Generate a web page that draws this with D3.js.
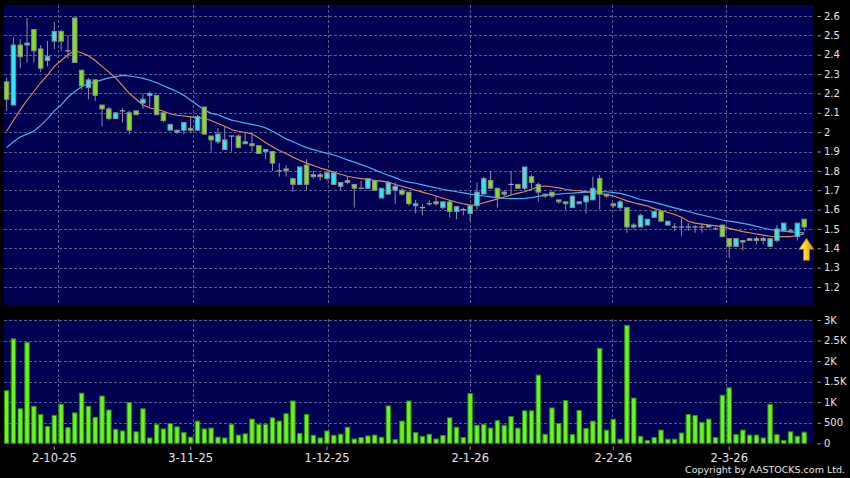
<!DOCTYPE html>
<html>
<head>
<meta charset="utf-8">
<script src="https://cdn.jsdelivr.net/npm/d3@7"></script>
<style>
  html, body { margin: 0; padding: 0; background: #000; }
  svg { display: block; }
</style>
</head>
<body>
<svg id="chart" width="850" height="478"></svg>
<script>
// trading days, 22 Sep 2025 .. 17 Mar 2026
const dates = [
  '2025-09-22','2025-09-23','2025-09-24','2025-09-25','2025-09-26','2025-09-29','2025-09-30',
  '2025-10-02','2025-10-03','2025-10-06','2025-10-08','2025-10-09','2025-10-10','2025-10-13','2025-10-14','2025-10-15','2025-10-16',
  '2025-10-17','2025-10-20','2025-10-21','2025-10-22','2025-10-23','2025-10-24','2025-10-27','2025-10-28','2025-10-30','2025-10-31',
  '2025-11-03','2025-11-04','2025-11-05','2025-11-06','2025-11-07','2025-11-10','2025-11-11','2025-11-12','2025-11-13','2025-11-14',
  '2025-11-17','2025-11-18','2025-11-19','2025-11-20','2025-11-21','2025-11-24','2025-11-25','2025-11-26','2025-11-27','2025-11-28',
  '2025-12-01','2025-12-02','2025-12-03','2025-12-04','2025-12-05','2025-12-08','2025-12-09','2025-12-10','2025-12-11','2025-12-12',
  '2025-12-15','2025-12-16','2025-12-17','2025-12-18','2025-12-19','2025-12-22','2025-12-23','2025-12-24','2025-12-29','2025-12-30','2025-12-31',
  '2026-01-02','2026-01-05','2026-01-06','2026-01-07','2026-01-08','2026-01-09','2026-01-12','2026-01-13','2026-01-14','2026-01-15',
  '2026-01-16','2026-01-19','2026-01-20','2026-01-21','2026-01-22','2026-01-23','2026-01-26','2026-01-27','2026-01-28','2026-01-29','2026-01-30',
  '2026-02-02','2026-02-03','2026-02-04','2026-02-05','2026-02-06','2026-02-09','2026-02-10','2026-02-11','2026-02-12','2026-02-13',
  '2026-02-16','2026-02-20','2026-02-23','2026-02-24','2026-02-25','2026-02-26','2026-02-27',
  '2026-03-02','2026-03-03','2026-03-04','2026-03-05','2026-03-06','2026-03-09','2026-03-10','2026-03-11','2026-03-12','2026-03-13',
  '2026-03-16','2026-03-17'
];

const open = [
  2.26,2.14,2.45,2.45,2.53,2.43,2.37,2.47,2.52,2.42,
  2.59,2.32,2.23,2.27,2.14,2.12,2.07,2.11,2.10,2.11,
  2.15,2.19,2.19,2.10,2.01,2.00,2.01,2.01,2.01,2.13,
  1.98,1.95,1.91,1.98,1.98,1.94,1.94,1.93,1.90,1.90,
  1.80,1.81,1.76,1.73,1.83,1.77,1.78,1.76,1.73,1.72,
  1.74,1.73,1.71,1.71,1.75,1.66,1.68,1.70,1.70,1.69,
  1.62,1.61,1.63,1.64,1.61,1.64,1.59,1.60,1.58,1.62,
  1.68,1.75,1.71,1.68,1.73,1.73,1.71,1.77,1.73,1.67,
  1.69,1.65,1.64,1.61,1.63,1.64,1.65,1.76,1.68,1.63,
  1.61,1.61,1.51,1.51,1.52,1.56,1.59,1.52,1.51,1.51,
  1.51,1.51,1.51,1.51,1.50,1.52,1.45,1.41,1.435,1.45,
  1.44,1.44,1.41,1.44,1.49,1.49,1.46,1.55
];
const high = [
  2.28,2.49,2.48,2.59,2.53,2.45,2.47,2.57,2.53,2.50,
  2.59,2.32,2.28,2.27,2.14,2.13,2.10,2.125,2.11,2.11,
  2.20,2.21,2.19,2.10,2.04,2.01,2.05,2.08,2.09,2.13,
  1.98,2.02,2.03,1.98,1.99,2.00,2.00,1.93,1.91,1.90,
  1.84,1.83,1.76,1.82,1.86,1.80,1.79,1.80,1.80,1.74,
  1.77,1.73,1.75,1.76,1.75,1.71,1.75,1.74,1.71,1.69,
  1.65,1.63,1.65,1.67,1.64,1.65,1.615,1.61,1.62,1.74,
  1.77,1.80,1.71,1.70,1.80,1.73,1.82,1.78,1.74,1.68,
  1.69,1.65,1.64,1.67,1.64,1.67,1.77,1.78,1.68,1.63,
  1.65,1.61,1.53,1.58,1.55,1.59,1.59,1.54,1.53,1.56,
  1.53,1.52,1.53,1.52,1.51,1.52,1.45,1.45,1.44,1.45,
  1.46,1.46,1.45,1.52,1.53,1.50,1.53,1.55
];
const low = [
  2.11,2.14,2.33,2.36,2.36,2.31,2.34,2.43,2.42,2.38,
  2.36,2.22,2.17,2.16,2.03,2.06,2.07,2.05,1.99,2.09,
  2.12,2.13,2.09,2.05,2.01,1.99,1.99,2.00,2.01,1.99,
  1.90,1.94,1.91,1.90,1.92,1.94,1.90,1.89,1.86,1.80,
  1.77,1.77,1.69,1.73,1.70,1.76,1.75,1.75,1.73,1.70,
  1.73,1.61,1.71,1.71,1.70,1.66,1.68,1.63,1.67,1.62,
  1.58,1.57,1.62,1.62,1.60,1.56,1.55,1.57,1.54,1.60,
  1.68,1.71,1.61,1.67,1.675,1.71,1.70,1.71,1.64,1.66,
  1.66,1.63,1.60,1.61,1.63,1.58,1.65,1.60,1.66,1.61,
  1.60,1.48,1.50,1.51,1.52,1.56,1.54,1.52,1.49,1.465,
  1.49,1.48,1.48,1.51,1.50,1.46,1.35,1.41,1.39,1.44,
  1.42,1.42,1.41,1.43,1.49,1.48,1.44,1.49
];
const close = [
  2.17,2.45,2.39,2.46,2.42,2.33,2.39,2.52,2.47,2.42,
  2.36,2.24,2.27,2.19,2.12,2.07,2.10,2.11,2.01,2.09,
  2.17,2.20,2.09,2.06,2.04,2.01,2.05,2.02,2.08,1.99,
  1.96,1.99,1.96,1.98,1.92,1.95,1.93,1.89,1.91,1.84,
  1.80,1.80,1.73,1.82,1.73,1.78,1.77,1.79,1.79,1.74,
  1.75,1.71,1.71,1.76,1.70,1.71,1.74,1.72,1.68,1.63,
  1.63,1.61,1.63,1.63,1.64,1.59,1.615,1.60,1.62,1.69,
  1.76,1.71,1.66,1.69,1.73,1.71,1.82,1.74,1.69,1.68,
  1.67,1.64,1.63,1.67,1.64,1.67,1.71,1.68,1.67,1.62,
  1.64,1.51,1.52,1.57,1.55,1.59,1.54,1.54,1.51,1.51,
  1.51,1.51,1.51,1.52,1.50,1.46,1.41,1.45,1.44,1.44,
  1.45,1.45,1.45,1.50,1.53,1.49,1.53,1.51
];

// moving averages as drawn (orange = short, blue = long)
const maShort = [
  2.005,2.06,2.115,2.165,2.21,2.255,2.295,2.34,2.37,2.40,
  2.42,2.41,2.395,2.37,2.34,2.31,2.28,2.24,2.20,2.17,
  2.14,2.125,2.118,2.108,2.095,2.087,2.083,2.079,2.075,2.07,
  2.06,2.045,2.03,2.014,2.005,1.998,1.99,1.97,1.945,1.925,
  1.905,1.89,1.87,1.855,1.84,1.828,1.815,1.805,1.793,1.782,
  1.772,1.766,1.76,1.755,1.751,1.747,1.742,1.73,1.72,1.71,
  1.70,1.69,1.68,1.67,1.658,1.648,1.638,1.63,1.623,1.625,
  1.635,1.645,1.655,1.665,1.675,1.685,1.692,1.705,1.718,1.722,
  1.718,1.712,1.705,1.70,1.697,1.692,1.687,1.683,1.678,1.67,
  1.658,1.645,1.635,1.627,1.618,1.605,1.595,1.585,1.575,1.56,
  1.54,1.53,1.525,1.52,1.516,1.512,1.503,1.494,1.486,1.48,
  1.474,1.468,1.462,1.46,1.46,1.46,1.466,1.475
];
const maLong = [
  1.92,1.95,1.975,1.99,2.005,2.035,2.07,2.11,2.14,2.18,
  2.21,2.235,2.25,2.26,2.27,2.28,2.287,2.293,2.29,2.285,
  2.278,2.268,2.255,2.24,2.225,2.21,2.19,2.165,2.14,2.115,
  2.097,2.09,2.075,2.062,2.055,2.047,2.04,2.033,2.022,2.005,
  1.985,1.965,1.95,1.935,1.92,1.91,1.90,1.89,1.882,1.87,
  1.857,1.845,1.832,1.82,1.805,1.79,1.777,1.765,1.75,1.742,
  1.736,1.728,1.72,1.712,1.705,1.698,1.692,1.686,1.68,1.675,
  1.67,1.666,1.662,1.658,1.657,1.657,1.658,1.662,1.668,1.675,
  1.678,1.68,1.683,1.685,1.688,1.69,1.692,1.693,1.692,1.688,
  1.684,1.675,1.663,1.652,1.645,1.637,1.628,1.618,1.609,1.60,
  1.59,1.58,1.572,1.564,1.555,1.546,1.54,1.535,1.529,1.522,
  1.513,1.505,1.497,1.491,1.488,1.485,1.482,1.48
];

const volume = [
  1280,2540,840,2450,900,700,410,680,950,380,
  740,1220,900,630,1150,810,340,300,990,280,
  840,130,460,350,480,400,260,150,540,350,
  370,150,130,460,200,230,590,460,460,620,
  540,720,1030,240,700,195,130,300,195,220,
  390,105,140,180,200,146,910,90,540,1030,
  260,170,220,105,190,620,390,140,1210,440,
  460,370,550,440,650,370,790,790,1660,220,
  860,480,1040,210,800,360,540,2310,320,585,
  100,2870,1100,170,70,140,320,100,100,250,
  700,675,510,590,140,1170,1350,210,320,200,
  200,130,950,210,70,280,170,270
];

const priceTicks = [1.2,1.3,1.4,1.5,1.6,1.7,1.8,1.9,2,2.1,2.2,2.3,2.4,2.5,2.6];
const volumeTicks = [0,500,1000,1500,2000,2500,3000];
const xTicks = ['2025-10-02','2025-11-03','2025-12-01','2026-01-02','2026-02-02','2026-03-02'];

const left = 4, right = 814;
const priceTop = 5, priceBottom = 305;
const volTop = 319, volBottom = 444;
const navy = '#000052';
const gridColor = '#5c5c8c';
const textColor = '#e4e4e4';
const font = '"DejaVu Sans", sans-serif';

const svg = d3.select('#chart');

const x = d3.scaleBand().domain(dates).range([3.2, 807.6]);
const cx = (d) => x(d) + x.bandwidth() / 2;
const bw = x.bandwidth() * 0.8;
// the grid uses a slightly different slot spacing than the bars
const gx = d3.scaleLinear().domain([-1, dates.length + 1]).range([left, right]);

const y = d3.scaleLinear().domain([1.2, 2.6]).range([287, 16]);
const yv = d3.scaleLinear().domain([0, 3000]).range([443.3, 320]);

const fmtDate = d3.timeFormat('%-d-%-m-%y');
const parse = d3.timeParse('%Y-%m-%d');

// panels
svg.append('rect').attr('x', left).attr('y', priceTop)
  .attr('width', right - left).attr('height', priceBottom - priceTop).attr('fill', navy);
svg.append('rect').attr('x', left).attr('y', volTop)
  .attr('width', right - left).attr('height', volBottom - volTop).attr('fill', navy);

// grid
const grid = svg.append('g').attr('stroke', gridColor).attr('stroke-width', 1)
  .attr('stroke-dasharray', '3,2').attr('shape-rendering', 'crispEdges');
grid.selectAll('.hp').data(priceTicks).join('line')
  .attr('x1', left).attr('x2', right)
  .attr('y1', (d) => Math.round(y(d)) + 0.5).attr('y2', (d) => Math.round(y(d)) + 0.5);
grid.selectAll('.hv').data(volumeTicks.filter((d) => d > 0)).join('line')
  .attr('class', 'hv')
  .attr('x1', left).attr('x2', right)
  .attr('y1', (d) => Math.round(yv(d)) + 0.5).attr('y2', (d) => Math.round(yv(d)) + 0.5);
xTicks.forEach((d) => {
  const gxv = Math.round(gx(dates.indexOf(d))) + 0.5;
  grid.append('line').attr('x1', gxv).attr('x2', gxv).attr('y1', priceTop).attr('y2', priceBottom);
  grid.append('line').attr('x1', gxv).attr('x2', gxv).attr('y1', volTop).attr('y2', volBottom);
});

// moving averages
const line = (vals) => d3.line().x((_d, i) => cx(dates[i])).y((d) => y(d))(vals);
svg.append('path').attr('d', line(maLong)).attr('fill', 'none')
  .attr('stroke', '#3fb4f0').attr('stroke-width', 1.2);
svg.append('path').attr('d', line(maShort)).attr('fill', 'none')
  .attr('stroke', '#e48c58').attr('stroke-width', 1.1);

// candles
const candles = svg.append('g');
dates.forEach((d, i) => {
  const c = cx(d);
  candles.append('line')
    .attr('x1', c).attr('x2', c)
    .attr('y1', y(high[i])).attr('y2', y(low[i]))
    .attr('stroke', '#8d8d9e').attr('stroke-width', 1);
  const o = open[i], cl = close[i];
  if (o === cl) {
    candles.append('line')
      .attr('x1', c - bw / 2).attr('x2', c + bw / 2)
      .attr('y1', y(o)).attr('y2', y(o))
      .attr('stroke', '#a0a0b0').attr('stroke-width', 1.2);
  } else {
    const top = y(Math.max(o, cl)), bot = y(Math.min(o, cl));
    candles.append('rect')
      .attr('x', c - bw / 2 + 0.5).attr('y', top)
      .attr('width', bw - 1).attr('height', Math.max(1.5, bot - top))
      .attr('fill', cl > o ? '#2fe6f6' : '#7ee11f')
      .attr('stroke', '#8a8a8a').attr('stroke-width', 1);
  }
});

// volume bars
svg.append('g').selectAll('rect').data(volume).join('rect')
  .attr('x', (_d, i) => cx(dates[i]) - bw / 2 + 0.5)
  .attr('y', (d) => yv(d))
  .attr('width', bw - 1)
  .attr('height', (d) => yv(0) - yv(d))
  .attr('fill', '#6af51e')
  .attr('stroke', '#2f8c0e').attr('stroke-width', 1);

// right axes
const styleAxis = (g, size) => {
  g.select('.domain').remove();
  g.selectAll('.tick line').attr('stroke', '#9a9a9a');
  g.selectAll('.tick text').attr('fill', textColor)
    .style('font-family', font).style('font-size', size + 'px');
};
svg.append('g').attr('transform', 'translate(817.5,0)')
  .call(d3.axisRight(y).tickValues(priceTicks).tickSize(3.5).tickPadding(3).tickFormat((d) => String(d)))
  .call((g) => styleAxis(g, 10));
svg.append('g').attr('transform', 'translate(817.5,0)')
  .call(d3.axisRight(yv).tickValues(volumeTicks).tickSize(3.5).tickPadding(3)
    .tickFormat((d) => (d >= 1000 ? d / 1000 + 'K' : String(d))))
  .call((g) => styleAxis(g, 10));

// bottom axis
svg.append('g').attr('transform', 'translate(0,446.5)')
  .call(d3.axisBottom(x).tickValues(xTicks).tickSize(3.5).tickPadding(4)
    .tickFormat((d) => fmtDate(parse(d))))
  .call((g) => styleAxis(g, 11.5));

// marker arrow under the latest candle
const last = dates.length - 1;
const defs = svg.append('defs');
const grad = defs.append('linearGradient').attr('id', 'gold').attr('x1', 0).attr('x2', 1);
grad.append('stop').attr('offset', '0%').attr('stop-color', '#fff29a');
grad.append('stop').attr('offset', '45%').attr('stop-color', '#ffd21c');
grad.append('stop').attr('offset', '100%').attr('stop-color', '#d08e00');
const ax = cx(dates[last]) + 2.3, ay = y(low[last]) + 7.5;
svg.append('path')
  .attr('d', `M${ax},${ay} L${ax + 7.5},${ay + 11} L${ax + 3},${ay + 11} L${ax + 3},${ay + 22}
    L${ax - 3},${ay + 22} L${ax - 3},${ay + 11} L${ax - 7.5},${ay + 11} Z`)
  .attr('fill', 'url(#gold)').attr('stroke', '#a87000').attr('stroke-width', 0.8);

// footer
svg.append('text').attr('x', 845).attr('y', 473).attr('text-anchor', 'end')
  .attr('fill', textColor).style('font-family', font).style('font-size', '9.5px')
  .text('Copyright by AASTOCKS.com Ltd.');
</script>
</body>
</html>
